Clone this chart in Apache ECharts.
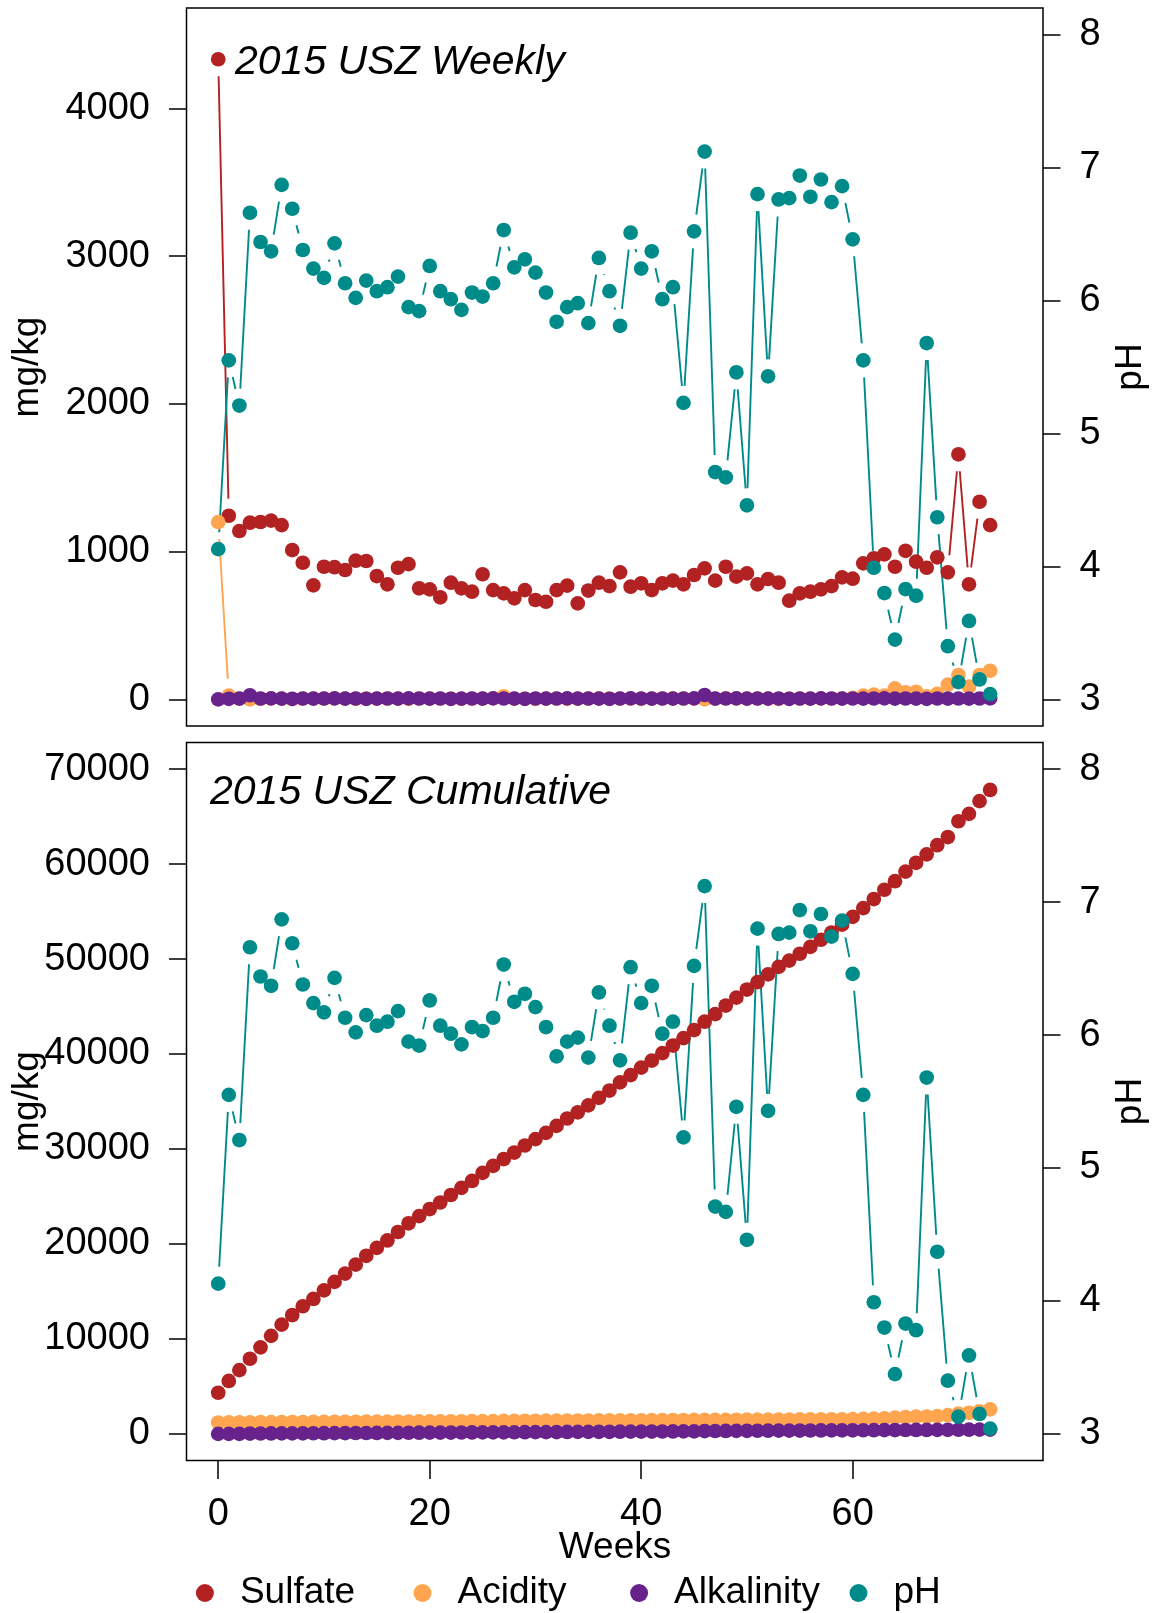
<!DOCTYPE html>
<html>
<head>
<meta charset="utf-8">
<script src="https://cdn.jsdelivr.net/npm/echarts@6/dist/echarts.min.js"></script>
<style>
  html, body { margin: 0; padding: 0; background: #ffffff; }
  #chart { width: 1156px; height: 1613px; }
</style>
</head>
<body>
<div id="chart"></div>
<script>
// Week index of each sample
const weeks = [0,1,2,3,4,5,6,7,8,9,10,11,12,13,14,15,16,17,18,19,20,21,22,23,24,25,26,27,28,29,30,31,32,33,34,35,36,37,38,39,40,41,42,43,44,45,46,47,48,49,50,51,52,53,54,55,56,57,58,59,60,61,62,63,64,65,66,67,68,69,70,71,72,73];

// Weekly loads (mg/kg)
const sulfateWeekly = [4333,1243,1140,1196,1201,1210,1180,1011,925,772,898,895,876,939,937,835,779,891,916,752,745,691,790,752,729,847,740,718,684,740,673,661,740,770,650,737,790,767,860,763,786,740,786,804,779,842,887,804,898,831,853,779,815,790,668,718,729,745,767,826,817,921,955,982,898,1006,932,891,962,860,1659,779,1338,1180];
const acidityWeekly = [1200,25,5,0,4,6,5,2,5,6,5,6,5,4,6,5,6,5,4,6,5,6,5,4,6,5,8,20,6,5,4,6,5,4,6,5,8,6,5,6,4,5,6,8,6,5,0,6,8,6,5,6,5,4,6,5,6,5,6,8,10,25,32,25,75,48,52,21,37,100,165,86,165,194];
const alkalinityWeekly = [0,4,5,28,6,7,5,4,6,5,6,7,5,6,4,5,6,5,7,6,5,6,4,5,6,5,7,6,5,4,6,5,6,7,5,6,5,4,6,7,6,5,6,5,6,7,30,5,6,7,5,6,5,6,4,6,5,7,6,5,6,5,6,7,5,6,5,4,6,5,6,5,6,7];
const phWeekly = [4.13,5.55,5.21,6.66,6.44,6.37,6.87,6.69,6.38,6.24,6.17,6.43,6.13,6.02,6.15,6.07,6.10,6.18,5.95,5.92,6.26,6.07,6.01,5.93,6.06,6.03,6.13,6.53,6.25,6.31,6.21,6.06,5.84,5.95,5.98,5.83,6.32,6.07,5.81,6.51,6.24,6.37,6.01,6.10,5.23,6.52,7.12,4.71,4.67,5.46,4.46,6.80,5.43,6.76,6.77,6.94,6.78,6.91,6.74,6.86,6.46,5.55,3.99,3.80,3.45,3.83,3.78,5.68,4.37,3.40,3.13,3.59,3.15,3.04];

// Cumulative loads (mg/kg)
const sulfateCumulative = [4333,5576,6716,7912,9113,10323,11503,12514,13439,14211,15109,16004,16880,17819,18756,19591,20370,21261,22177,22929,23674,24365,25155,25907,26636,27483,28223,28941,29625,30365,31038,31699,32439,33209,33859,34596,35386,36153,37013,37776,38562,39302,40088,40892,41671,42513,43400,44204,45102,45933,46786,47565,48380,49170,49838,50556,51285,52030,52797,53623,54440,55361,56316,57298,58196,59202,60134,61025,61987,62847,64506,65285,66623,67803];
const acidityCumulative = [1200,1225,1230,1230,1234,1240,1245,1247,1252,1258,1263,1269,1274,1278,1284,1289,1295,1300,1304,1310,1315,1321,1326,1330,1336,1341,1349,1369,1375,1380,1384,1390,1395,1399,1405,1410,1418,1424,1429,1435,1439,1444,1450,1458,1464,1469,1469,1475,1483,1489,1494,1500,1505,1509,1515,1520,1526,1531,1537,1545,1555,1580,1612,1637,1712,1760,1812,1833,1870,1970,2135,2221,2386,2580];
const alkalinityCumulative = [0,4,9,37,43,50,55,59,65,70,76,83,88,94,98,103,109,114,121,127,132,138,142,147,153,158,165,171,176,180,186,191,197,204,209,215,220,224,230,237,243,248,254,259,265,272,302,307,313,320,325,331,336,342,346,352,357,364,370,375,381,386,392,399,404,410,415,419,425,430,436,441,447,454];

// Tick labels
const weekTicks = [0, 20, 40, 60];
const weeklyTicks = [0, 1000, 2000, 3000, 4000];
const cumulativeTicks = [0, 10000, 20000, 30000, 40000, 50000, 60000, 70000];
const phTicks = [3, 4, 5, 6, 7, 8];

const COLORS = { Sulfate: '#B22222', Acidity: '#FFA54F', Alkalinity: '#68228B', pH: '#008B8B' };
const FONT = '"Liberation Sans", Arial, Helvetica, sans-serif';
const GAP = 17;          // blank space left around each point on the connecting lines
const POINT = 14.7;

const chart = echarts.init(document.getElementById('chart'), null, { renderer: 'canvas' });

// Connecting line segments that stop short of each point
function segmentRenderer(color) {
  return function (params, api) {
    const a = api.coord([api.value(0), api.value(1)]);
    const b = api.coord([api.value(2), api.value(3)]);
    const dx = b[0] - a[0], dy = b[1] - a[1];
    const len = Math.sqrt(dx * dx + dy * dy);
    if (len <= 2 * GAP) return { type: 'group', children: [] };
    const ux = dx / len, uy = dy / len;
    return {
      type: 'line',
      shape: { x1: a[0] + ux * GAP, y1: a[1] + uy * GAP, x2: b[0] - ux * GAP, y2: b[1] - uy * GAP },
      style: { stroke: color, lineWidth: 1.9 }
    };
  };
}

function seriesPair(name, values, gridIdx, yIdx) {
  const color = COLORS[name];
  const segs = values.slice(0, -1).map((v, i) => [weeks[i], v, weeks[i + 1], values[i + 1]]);
  const pts = weeks.map((w, i) => [w, values[i]]);
  return [
    {
      type: 'custom', coordinateSystem: 'cartesian2d',
      xAxisIndex: gridIdx, yAxisIndex: yIdx,
      renderItem: segmentRenderer(color),
      encode: { x: [0, 2], y: [1, 3] },
      data: segs, silent: true, clip: true
    },
    {
      name: name, type: 'scatter',
      xAxisIndex: gridIdx, yAxisIndex: yIdx,
      symbol: 'circle', symbolSize: POINT,
      itemStyle: { color: color, opacity: 1, borderWidth: 0 },
      emphasis: { disabled: true },
      data: pts, silent: true
    }
  ];
}

const tickLabelStyle = {
  fontSize: 38, fontFamily: FONT, color: '#000',
  padding: [5, 0, 0, 0],
  formatter: v => String(v)
};

function yAxis(gridIdx, side, min, max, ticks) {
  return {
    type: 'value', gridIndex: gridIdx, position: side, min: min, max: max,
    axisLine: { show: false, onZero: false }, splitLine: { show: false },
    axisTick: { show: true, customValues: ticks, length: 17.5, lineStyle: { color: '#000', width: 1.5 } },
    axisLabel: Object.assign({ show: true, customValues: ticks, margin: 36.5 }, tickLabelStyle)
  };
}

const grids = [
  { left: 186.5, top: 8, width: 856.5, height: 718 },
  { left: 186.5, top: 742.5, width: 856.5, height: 718 }
].map(g => Object.assign(g, { show: true, borderColor: '#000', borderWidth: 1.5, backgroundColor: 'transparent', containLabel: false }));

const xAxes = [
  {
    type: 'value', gridIndex: 0, min: -3, max: 78,
    axisLine: { show: false, onZero: false }, axisTick: { show: false }, axisLabel: { show: false }, splitLine: { show: false }
  },
  {
    type: 'value', gridIndex: 1, min: -3, max: 78, position: 'bottom',
    axisLine: { show: false, onZero: false }, splitLine: { show: false },
    axisTick: { show: true, customValues: weekTicks, length: 18.6, lineStyle: { color: '#000', width: 1.5 } },
    axisLabel: Object.assign({ show: true, customValues: weekTicks, margin: 54, verticalAlign: 'middle' }, tickLabelStyle, { padding: 0 })
  }
];

const yAxes = [
  yAxis(0, 'left', -180, 4680, weeklyTicks),
  yAxis(0, 'right', 2.8, 8.2, phTicks),
  yAxis(1, 'left', -2800, 72800, cumulativeTicks),
  yAxis(1, 'right', 2.8, 8.2, phTicks)
];

const series = [].concat(
  seriesPair('Sulfate', sulfateWeekly, 0, 0),
  seriesPair('Acidity', acidityWeekly, 0, 0),
  seriesPair('Alkalinity', alkalinityWeekly, 0, 0),
  seriesPair('pH', phWeekly, 0, 1),
  seriesPair('Sulfate', sulfateCumulative, 1, 2),
  seriesPair('Acidity', acidityCumulative, 1, 2),
  seriesPair('Alkalinity', alkalinityCumulative, 1, 2),
  seriesPair('pH', phWeekly, 1, 3)
);

const legendCenters = { Sulfate: 205.4, Acidity: 423, Alkalinity: 639.6, pH: 859 };
const legends = Object.keys(legendCenters).map(name => ({
  data: [{ name: name, icon: 'circle' }],
  orient: 'horizontal',
  left: legendCenters[name] - 9.5, top: 1574.5,
  padding: 0, itemWidth: 60, itemHeight: 18,
  selectedMode: false,
  textStyle: { fontSize: 37, fontFamily: FONT, color: '#000' }
}));

function label(text, x, y, font, opts) {
  return Object.assign({
    type: 'text', x: x, y: y, silent: true,
    style: {
      text: text, font: font, fill: '#000',
      textAlign: (opts && opts.align) || 'left', align: (opts && opts.align) || 'left',
      textVerticalAlign: 'middle', verticalAlign: 'middle'
    }
  }, (opts && opts.rotation) ? { rotation: opts.rotation } : {});
}

const graphics = [
  label('2015 USZ Weekly', 235, 63, 'italic 41px ' + FONT),
  label('2015 USZ Cumulative', 210, 793, 'italic 41px ' + FONT),
  label('mg/kg', 28, 367, '37px ' + FONT, { align: 'center', rotation: Math.PI / 2 }),
  label('mg/kg', 28, 1101.5, '37px ' + FONT, { align: 'center', rotation: Math.PI / 2 }),
  label('pH', 1131, 367, '37px ' + FONT, { align: 'center', rotation: Math.PI / 2 }),
  label('pH', 1131, 1101.5, '37px ' + FONT, { align: 'center', rotation: Math.PI / 2 }),
  label('Weeks', 615, 1548, '37px ' + FONT, { align: 'center' })
];

chart.setOption({
  animation: false,
  backgroundColor: '#ffffff',
  grid: grids,
  xAxis: xAxes,
  yAxis: yAxes,
  legend: legends,
  graphic: { elements: graphics },
  series: series
});
</script>
</body>
</html>
